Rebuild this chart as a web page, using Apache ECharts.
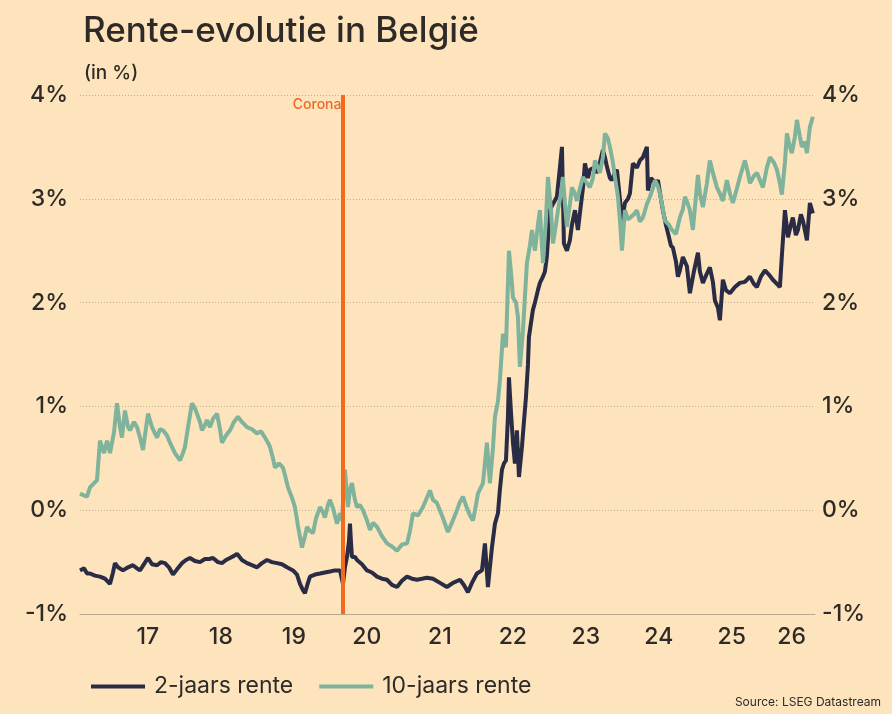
<!DOCTYPE html>
<html>
<head>
<meta charset="utf-8">
<script src="https://cdn.jsdelivr.net/npm/echarts@6/dist/echarts.min.js"></script>
<style>
  html, body { margin: 0; padding: 0; background: #fde4bd; }
  #chart { width: 892px; height: 714px; }
</style>
</head>
<body>
<div id="chart"></div>
<script>
// decimal year, rate in %
const rente2 = [
  [2016.570,-0.58],[2016.625,-0.56],[2016.666,-0.61],[2016.707,-0.61],[2016.775,-0.63],[2016.844,-0.64],
  [2016.912,-0.66],[2016.981,-0.71],[2017.022,-0.60],[2017.049,-0.51],[2017.091,-0.55],[2017.159,-0.58],
  [2017.228,-0.55],[2017.296,-0.53],[2017.351,-0.56],[2017.392,-0.58],[2017.447,-0.52],[2017.502,-0.46],
  [2017.556,-0.52],[2017.625,-0.53],[2017.680,-0.50],[2017.734,-0.51],[2017.789,-0.55],[2017.844,-0.62],
  [2017.899,-0.57],[2017.967,-0.51],[2018.022,-0.48],[2018.077,-0.46],[2018.145,-0.49],[2018.214,-0.50],
  [2018.282,-0.47],[2018.337,-0.47],[2018.392,-0.46],[2018.460,-0.50],[2018.515,-0.51],[2018.570,-0.48],
  [2018.625,-0.46],[2018.680,-0.44],[2018.721,-0.42],[2018.789,-0.48],[2018.858,-0.51],[2018.926,-0.53],
  [2018.995,-0.55],[2019.063,-0.51],[2019.132,-0.48],[2019.200,-0.50],[2019.269,-0.51],[2019.337,-0.52],
  [2019.406,-0.55],[2019.488,-0.58],[2019.543,-0.62],[2019.584,-0.71],[2019.625,-0.77],[2019.652,-0.80],
  [2019.693,-0.70],[2019.721,-0.64],[2019.789,-0.62],[2019.858,-0.61],[2019.926,-0.60],[2019.995,-0.59],
  [2020.063,-0.58],[2020.132,-0.58],[2020.173,-0.71],[2020.200,-0.55],[2020.228,-0.45],[2020.255,-0.30],
  [2020.269,-0.13],[2020.282,-0.30],[2020.296,-0.45],[2020.337,-0.45],[2020.365,-0.48],[2020.433,-0.52],
  [2020.502,-0.58],[2020.570,-0.60],[2020.639,-0.64],[2020.707,-0.66],[2020.776,-0.67],[2020.844,-0.72],
  [2020.913,-0.74],[2020.981,-0.68],[2021.050,-0.64],[2021.118,-0.66],[2021.186,-0.67],[2021.255,-0.66],
  [2021.323,-0.65],[2021.406,-0.66],[2021.502,-0.70],[2021.597,-0.74],[2021.680,-0.70],[2021.776,-0.67],
  [2021.830,-0.72],[2021.885,-0.79],[2021.940,-0.70],[2022.008,-0.61],[2022.077,-0.58],[2022.118,-0.32],
  [2022.159,-0.74],[2022.186,-0.55],[2022.214,-0.36],[2022.255,-0.13],[2022.296,-0.03],[2022.323,0.20],
  [2022.351,0.39],[2022.378,0.45],[2022.406,0.48],[2022.433,0.90],[2022.447,1.28],[2022.474,0.95],
  [2022.502,0.65],[2022.529,0.45],[2022.556,0.77],[2022.584,0.32],[2022.625,0.61],[2022.652,0.85],
  [2022.680,1.09],[2022.707,1.40],[2022.721,1.67],[2022.748,1.80],[2022.775,1.93],[2022.803,2.00],
  [2022.844,2.12],[2022.871,2.19],[2022.913,2.25],[2022.940,2.30],[2022.967,2.45],[2023.008,2.89],
  [2023.050,2.95],[2023.104,3.02],[2023.145,3.30],[2023.173,3.50],[2023.200,2.57],[2023.241,2.50],
  [2023.282,2.60],[2023.310,2.75],[2023.351,2.89],[2023.392,2.70],[2023.419,2.86],[2023.460,3.10],
  [2023.488,3.34],[2023.529,3.20],[2023.556,3.28],[2023.611,3.30],[2023.652,3.25],[2023.693,3.35],
  [2023.734,3.47],[2023.762,3.40],[2023.789,3.31],[2023.830,3.20],[2023.858,3.18],[2023.899,3.25],
  [2023.926,3.28],[2023.967,3.00],[2023.995,2.79],[2024.036,2.96],[2024.077,3.00],[2024.104,3.05],
  [2024.145,3.34],[2024.200,3.30],[2024.241,3.37],[2024.282,3.40],[2024.337,3.50],[2024.351,3.08],
  [2024.392,3.20],[2024.419,3.21],[2024.460,3.15],[2024.488,3.18],[2024.529,3.00],[2024.556,2.89],
  [2024.597,2.75],[2024.625,2.67],[2024.666,2.55],[2024.693,2.53],[2024.734,2.40],[2024.762,2.25],
  [2024.789,2.31],[2024.830,2.44],[2024.885,2.35],[2024.926,2.09],[2024.981,2.30],[2025.036,2.48],
  [2025.063,2.30],[2025.104,2.19],[2025.159,2.28],[2025.200,2.34],[2025.241,2.20],[2025.269,2.02],
  [2025.310,1.95],[2025.337,1.83],[2025.378,2.22],[2025.419,2.12],[2025.474,2.09],[2025.543,2.15],
  [2025.611,2.19],[2025.680,2.20],[2025.748,2.25],[2025.803,2.18],[2025.844,2.15],[2025.899,2.25],
  [2025.954,2.31],[2026.008,2.27],[2026.063,2.22],[2026.118,2.18],[2026.159,2.15],[2026.186,2.45],
  [2026.228,2.89],[2026.269,2.63],[2026.310,2.75],[2026.337,2.82],[2026.378,2.65],[2026.406,2.70],
  [2026.447,2.85],[2026.474,2.79],[2026.515,2.65],[2026.529,2.60],[2026.570,2.96],[2026.611,2.86]
];

const rente10 = [
  [2016.570,0.16],[2016.666,0.13],[2016.707,0.22],[2016.803,0.29],[2016.844,0.67],[2016.899,0.55],
  [2016.940,0.67],[2016.981,0.55],[2017.036,0.75],[2017.077,1.03],[2017.118,0.80],[2017.145,0.70],
  [2017.186,0.96],[2017.228,0.80],[2017.255,0.77],[2017.310,0.85],[2017.351,0.80],[2017.392,0.70],
  [2017.433,0.58],[2017.460,0.72],[2017.502,0.93],[2017.556,0.80],[2017.625,0.70],[2017.666,0.78],
  [2017.707,0.77],[2017.762,0.72],[2017.803,0.65],[2017.871,0.55],[2017.940,0.48],[2017.981,0.55],
  [2018.008,0.61],[2018.050,0.80],[2018.104,1.03],[2018.145,0.98],[2018.173,0.93],[2018.214,0.85],
  [2018.241,0.77],[2018.282,0.82],[2018.310,0.87],[2018.351,0.80],[2018.392,0.88],[2018.447,0.93],
  [2018.488,0.78],[2018.515,0.65],[2018.570,0.72],[2018.625,0.77],[2018.680,0.85],[2018.734,0.90],
  [2018.789,0.85],[2018.858,0.80],[2018.926,0.78],[2018.995,0.74],[2019.050,0.76],[2019.104,0.70],
  [2019.145,0.65],[2019.173,0.61],[2019.214,0.50],[2019.241,0.41],[2019.296,0.45],[2019.351,0.41],
  [2019.392,0.30],[2019.419,0.22],[2019.474,0.12],[2019.515,0.03],[2019.556,-0.15],[2019.611,-0.36],
  [2019.652,-0.25],[2019.680,-0.16],[2019.721,-0.20],[2019.762,-0.22],[2019.803,-0.08],[2019.858,0.03],
  [2019.899,-0.02],[2019.926,-0.07],[2019.967,0.05],[2019.995,0.10],[2020.036,0.02],[2020.091,-0.13],
  [2020.132,-0.03],[2020.159,-0.10],[2020.200,0.39],[2020.241,0.03],[2020.269,0.20],[2020.296,0.26],
  [2020.337,0.10],[2020.365,0.03],[2020.406,0.05],[2020.447,0.00],[2020.502,-0.10],[2020.543,-0.19],
  [2020.584,-0.12],[2020.639,-0.16],[2020.707,-0.25],[2020.776,-0.32],[2020.844,-0.35],[2020.913,-0.39],
  [2020.981,-0.33],[2021.050,-0.32],[2021.091,-0.20],[2021.132,-0.03],[2021.200,-0.05],[2021.269,0.03],
  [2021.323,0.12],[2021.365,0.19],[2021.406,0.10],[2021.460,0.07],[2021.529,-0.05],[2021.611,-0.21],
  [2021.666,-0.12],[2021.734,0.00],[2021.776,0.08],[2021.817,0.13],[2021.871,0.02],[2021.913,-0.05],
  [2021.954,-0.10],[2021.995,0.05],[2022.022,0.16],[2022.091,0.26],[2022.145,0.65],[2022.186,0.26],
  [2022.228,0.60],[2022.255,0.90],[2022.296,1.05],[2022.323,1.25],[2022.365,1.70],[2022.406,1.57],
  [2022.447,2.50],[2022.474,2.30],[2022.502,2.05],[2022.543,2.00],[2022.570,1.86],[2022.597,1.38],
  [2022.639,1.73],[2022.693,2.38],[2022.734,2.55],[2022.762,2.70],[2022.803,2.50],[2022.844,2.75],
  [2022.871,2.89],[2022.913,2.38],[2022.954,2.80],[2022.981,3.21],[2023.022,2.90],[2023.050,2.57],
  [2023.091,2.75],[2023.118,2.89],[2023.159,3.05],[2023.186,3.21],[2023.214,2.95],[2023.241,2.73],
  [2023.282,2.95],[2023.310,3.11],[2023.351,3.05],[2023.378,2.98],[2023.419,3.10],[2023.460,3.21],
  [2023.515,3.15],[2023.556,3.11],[2023.597,3.20],[2023.625,3.37],[2023.666,3.30],[2023.693,3.25],
  [2023.734,3.40],[2023.762,3.63],[2023.803,3.58],[2023.830,3.50],[2023.871,3.35],[2023.899,3.21],
  [2023.940,3.02],[2023.967,2.80],[2023.995,2.50],[2024.036,2.89],[2024.077,2.80],[2024.104,2.79],
  [2024.159,2.85],[2024.200,2.89],[2024.241,2.78],[2024.282,2.82],[2024.337,2.95],[2024.378,3.02],
  [2024.419,3.10],[2024.447,3.18],[2024.488,3.12],[2024.515,3.05],[2024.556,2.90],[2024.584,2.79],
  [2024.639,2.75],[2024.680,2.70],[2024.734,2.66],[2024.789,2.82],[2024.830,2.90],[2024.858,3.02],
  [2024.899,2.95],[2024.926,2.89],[2024.967,2.70],[2025.036,3.23],[2025.063,3.05],[2025.104,2.92],
  [2025.159,3.15],[2025.200,3.37],[2025.241,3.25],[2025.296,3.11],[2025.337,3.05],[2025.378,2.98],
  [2025.433,3.18],[2025.474,3.05],[2025.515,2.96],[2025.570,3.10],[2025.611,3.21],[2025.680,3.37],
  [2025.721,3.25],[2025.748,3.15],[2025.803,3.22],[2025.844,3.25],[2025.885,3.18],[2025.926,3.11],
  [2025.981,3.30],[2026.022,3.40],[2026.077,3.35],[2026.118,3.28],[2026.159,3.15],[2026.186,3.04],
  [2026.228,3.35],[2026.255,3.63],[2026.296,3.50],[2026.323,3.44],[2026.365,3.60],[2026.392,3.76],
  [2026.433,3.60],[2026.460,3.50],[2026.502,3.55],[2026.529,3.44],[2026.570,3.69],[2026.611,3.79]
];

const xMin = 2016.57;
const xMax = 2026.64;
const jaren = [2017, 2018, 2019, 2020, 2021, 2022, 2023, 2024, 2025, 2026];
const yTicks = [-1, 0, 1, 2, 3, 4];
const coronaDatum = 2020.166;

const seriesNames = ['2-jaars rente', '10-jaars rente'];
const kleuren = ['#2a2b45', '#7fb39b'];
const tekstKleur = '#2d2a27';
const font = 'Inter';

// jaarlabels staan midden in elk jaar (het laatste midden in het lopende jaar)
const labelPosities = jaren.map(j => j === 2026 ? (j + xMax) / 2 : j + 0.5);

const ec = echarts.init(document.getElementById('chart'), null, { renderer: 'canvas' });

const yAxisBase = {
  type: 'value',
  min: yTicks[0],
  max: yTicks[yTicks.length - 1],
  interval: 1,
  axisLine: { show: false },
  axisTick: { show: false },
  axisLabel: {
    formatter: v => v + '%',
    fontSize: 23,
    fontWeight: 500,
    fontFamily: font,
    color: tekstKleur
  }
};

const option = {
  backgroundColor: '#fde4bd',
  animation: false,
  title: [
    { text: 'Rente-evolutie in België', left: 78, top: 9,
      textStyle: { fontSize: 35, fontWeight: 500, fontFamily: font, color: tekstKleur } },
    { text: '(in %)', left: 79, top: 59,
      textStyle: { fontSize: 19, fontWeight: 500, fontFamily: font, color: tekstKleur } },
    { text: 'Source: LSEG Datastream', right: 6, bottom: 1,
      textStyle: { fontSize: 12, fontWeight: 'normal', fontFamily: font, color: tekstKleur } }
  ],
  legend: {
    left: 86,
    top: 670,
    itemWidth: 54,
    itemHeight: 4,
    itemGap: 26,
    icon: 'rect',
    data: seriesNames,
    textStyle: { fontSize: 23, fontFamily: font, color: tekstKleur, padding: [0, 0, 0, 4] }
  },
  grid: { left: 80, right: 77, top: 95, bottom: 100 },
  xAxis: {
    type: 'value',
    min: xMin,
    max: xMax,
    splitLine: { show: false },
    axisTick: { show: false },
    axisLine: { show: true, onZero: false, lineStyle: { color: '#bda78c', width: 1 } },
    axisLabel: {
      customValues: labelPosities,
      formatter: v => String(Math.floor(v)).slice(2),
      fontSize: 23,
      fontWeight: 500,
      fontFamily: font,
      color: tekstKleur,
      margin: 12
    }
  },
  yAxis: [
    Object.assign({}, yAxisBase, {
      position: 'left',
      axisLabel: Object.assign({}, yAxisBase.axisLabel, { margin: 12 }),
      splitLine: { show: true, lineStyle: { color: '#c2ae95', type: [1, 2], width: 1 } }
    }),
    Object.assign({}, yAxisBase, {
      position: 'right',
      axisLabel: Object.assign({}, yAxisBase.axisLabel, { margin: 7 }),
      splitLine: { show: false }
    })
  ],
  series: [
    {
      name: seriesNames[0],
      type: 'line',
      data: rente2,
      showSymbol: false,
      symbol: 'none',
      color: kleuren[0],
      lineStyle: { width: 4, color: kleuren[0] },
      markLine: {
        silent: true,
        symbol: 'none',
        lineStyle: { color: '#f26a1b', width: 4, type: 'solid' },
        label: { show: false },
        data: [{ xAxis: coronaDatum }]
      },
      markPoint: {
        symbol: 'circle',
        symbolSize: 0,
        label: {
          show: true,
          position: 'left',
          distance: 1,
          offset: [0, 10],
          formatter: 'Corona',
          fontSize: 14,
          fontWeight: 500,
          fontFamily: font,
          color: '#ee6a22'
        },
        data: [{ coord: [coronaDatum, yTicks[yTicks.length - 1]] }]
      },
      z: 2
    },
    {
      name: seriesNames[1],
      type: 'line',
      data: rente10,
      showSymbol: false,
      symbol: 'none',
      color: kleuren[1],
      lineStyle: { width: 4, color: kleuren[1] },
      z: 3
    }
  ]
};

ec.setOption(option);
</script>
</body>
</html>
